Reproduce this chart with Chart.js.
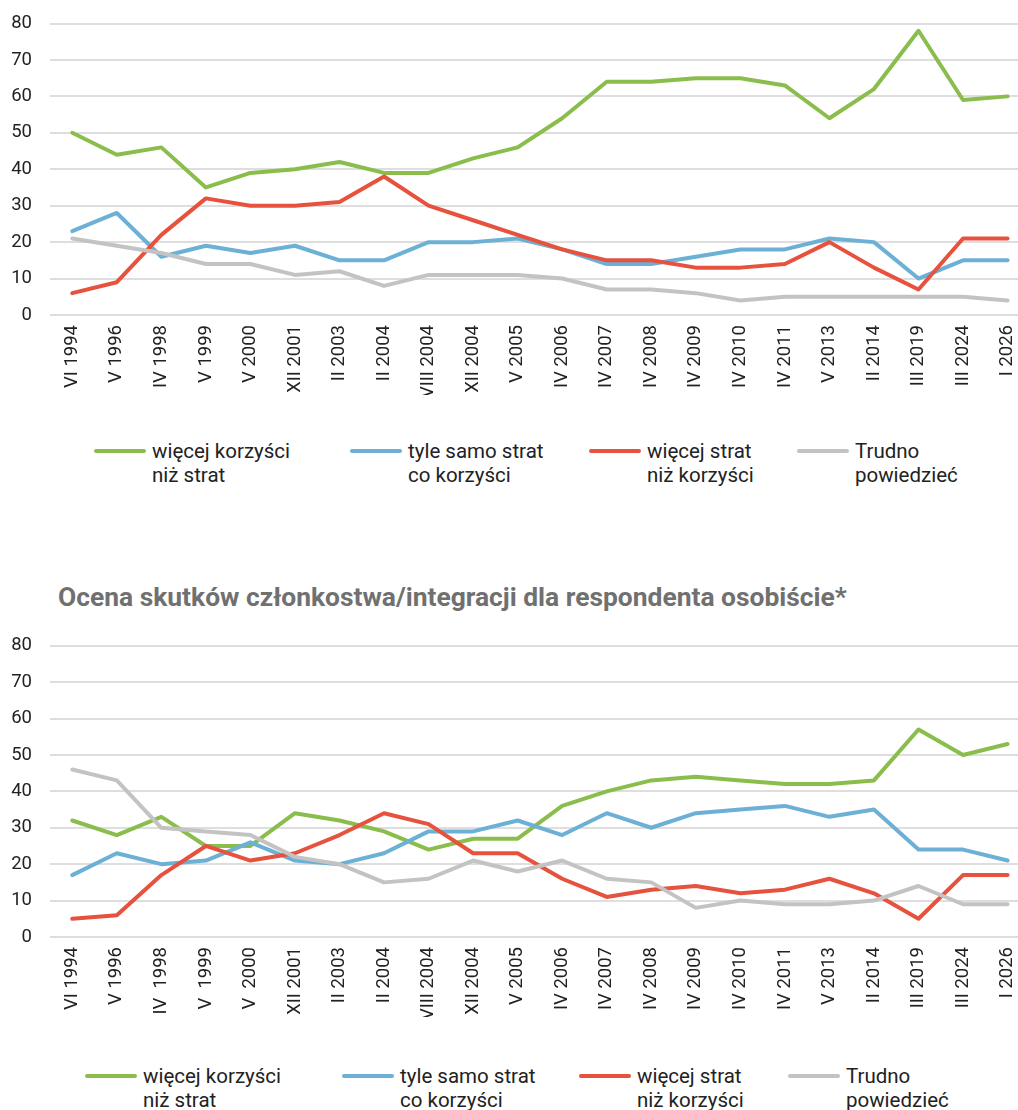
<!DOCTYPE html>
<html><head><meta charset="utf-8">
<script src="https://cdn.jsdelivr.net/npm/chart.js@4/dist/chart.umd.min.js"></script>
<style>
html,body{margin:0;padding:0;background:#fff;overflow:hidden;width:1018px;height:1110px;position:relative;}
canvas{position:absolute;left:0;}
#c1{top:0;}
#c2{top:620px;}
#t2{position:absolute;left:58px;top:581px;font-family:Roboto,sans-serif;font-weight:bold;font-size:26.4px;line-height:32px;color:#707070;white-space:nowrap;}
.legend{position:absolute;left:0;width:1018px;height:56px;font-family:Roboto,sans-serif;font-size:20.5px;line-height:24px;color:#222;}
.item{position:absolute;top:0;display:flex;align-items:flex-start;}
.swatch{width:52px;height:4px;border-radius:2px;margin-top:10px;margin-right:6px;}
</style></head><body>
<canvas id="c1" width="1040" height="420"></canvas>
<div class="legend" id="l1" style="top:439px"></div>
<div id="t2">Ocena skutków członkostwa/integracji dla respondenta osobiście*</div>
<canvas id="c2" width="1040" height="420"></canvas>
<div class="legend" id="l2" style="top:1064px"></div>
<script>
const categoriesTop = ['VI 1994','V 1996','IV 1998','V 1999','V 2000','XII 2001','II 2003','II 2004','VIII 2004','XII 2004','V 2005','IV 2006','IV 2007','IV 2008','IV 2009','IV 2010','IV 2011','V 2013','II 2014','III 2019','III 2024','I 2026'];
const categoriesBottom = ['VI 1994','V 1996','IV  1998','V  1999','V  2000','XII 2001','II 2003','II 2004','VIII 2004','XII 2004','V 2005','IV 2006','IV 2007','IV 2008','IV 2009','IV 2010','IV 2011','V 2013','II 2014','III 2019','III 2024','I 2026'];
const seriesNames = ['więcej korzyści\nniż strat','tyle samo strat\nco korzyści','więcej strat\nniż korzyści','Trudno\npowiedzieć'];
const seriesColors = ['#8abd4b','#6cb0d6','#e6523e','#c3c3c3'];
const yMin = 0, yMax = 80, yStep = 10;

// Chart 1 (top)
const topMoreBenefits = [50,44,46,35,39,40,42,39,39,43,46,54,64,64,65,65,63,54,62,78,59,60];
const topEqual        = [23,28,16,19,17,19,15,15,20,20,21,18,14,14,16,18,18,21,20,10,15,15];
const topMoreLosses   = [6,9,22,32,30,30,31,38,30,26,22,18,15,15,13,13,14,20,13,7,21,21];
const topHardToSay    = [21,19,17,14,14,11,12,8,11,11,11,10,7,7,6,4,5,5,5,5,5,4];

// Chart 2 (bottom) - respondent personally
const botMoreBenefits = [32,28,33,25,25,34,32,29,24,27,27,36,40,43,44,43,42,42,43,57,50,53];
const botEqual        = [17,23,20,21,26,21,20,23,29,29,32,28,34,30,34,35,36,33,35,24,24,21];
const botMoreLosses   = [5,6,17,25,21,23,28,34,31,23,23,16,11,13,14,12,13,16,12,5,17,17];
const botHardToSay    = [46,43,30,29,28,22,20,15,16,21,18,21,16,15,8,10,9,9,10,14,9,9];

Chart.defaults.font.family = 'Roboto, sans-serif';
Chart.defaults.color = '#222';

function makeChart(canvasId, cats, series, pad, xHeight) {
  const datasets = series.map((d, i) => ({
    label: seriesNames[i].replace('\n', ' '),
    data: d,
    borderColor: seriesColors[i],
    backgroundColor: seriesColors[i],
    borderWidth: 4,
    pointRadius: 0,
    tension: 0,
    borderJoinStyle: 'round',
    borderCapStyle: 'round',
    order: series.length - i
  }));
  return new Chart(document.getElementById(canvasId), {
    type: 'line',
    data: { labels: cats, datasets },
    options: {
      responsive: false,
      animation: false,
      devicePixelRatio: 1,
      layout: { padding: pad },
      plugins: {
        tooltip: { enabled: false },
        title: { display: false },
        legend: { display: false }
      },
      scales: {
        x: {
          offset: true,
          grid: { display: false, drawTicks: false },
          border: { display: false },
          ticks: { maxRotation: 90, minRotation: 90, autoSkip: false, padding: 10, font: { size: 18.5 }, color: '#222' },
          afterFit: s => { s.height = xHeight; }
        },
        y: {
          min: yMin, max: yMax,
          grid: { color: '#dedede', lineWidth: 2, drawTicks: true, tickLength: 18, tickColor: 'rgba(0,0,0,0)' },
          border: { display: false },
          ticks: { stepSize: yStep, padding: 0, font: { size: 18.5 }, color: '#222' },
          afterFit: s => { s.width = 50; }
        }
      }
    }
  });
}

function makeLegend(id, lefts) {
  const el = document.getElementById(id);
  seriesNames.forEach((name, i) => {
    const item = document.createElement('div');
    item.className = 'item';
    item.style.left = lefts[i] + 'px';
    const sw = document.createElement('div');
    sw.className = 'swatch';
    sw.style.background = seriesColors[i];
    const tx = document.createElement('div');
    tx.innerHTML = name.split('\n').map(s => s.replace(/&/g,'&amp;').replace(/</g,'&lt;')).join('<br>');
    item.appendChild(sw); item.appendChild(tx);
    el.appendChild(item);
  });
}

makeChart('c1', categoriesTop, [topMoreBenefits, topEqual, topMoreLosses, topHardToSay], { top: 23.5, right: 10, left: 0, bottom: 25 }, 80);
makeChart('c2', categoriesBottom, [botMoreBenefits, botEqual, botMoreLosses, botHardToSay], { top: 25.7, right: 10, left: 0, bottom: 23 }, 80);
makeLegend('l1', [94, 350, 589, 797]);
makeLegend('l2', [85, 342, 579, 788]);
</script>
</body></html>
